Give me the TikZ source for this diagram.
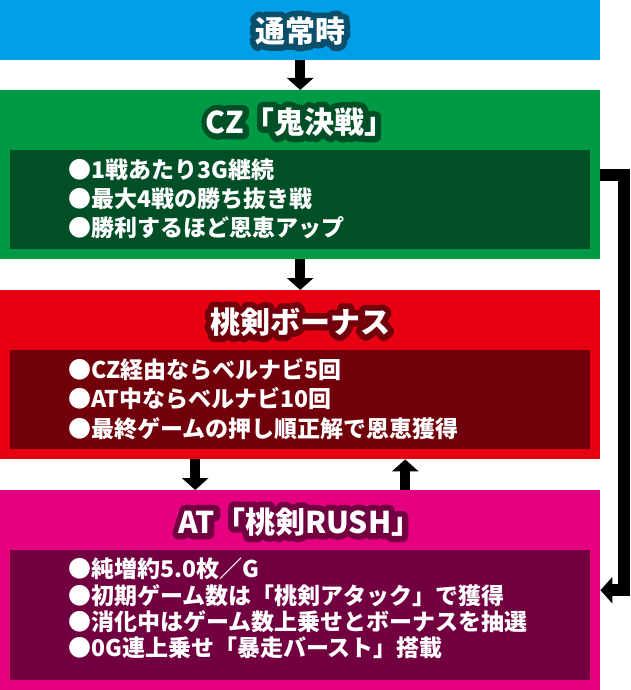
\documentclass[tikz,border=0pt]{standalone}
\usepackage{fontspec}
\setmainfont{Noto Sans CJK JP}
\newfontfamily\haloface{Noto Sans CJK JP}[BoldFeatures={FakeBold=40}]
\usetikzlibrary{arrows.meta}
\definecolor{Sky}{HTML}{009FE8}
\definecolor{SkyDark}{HTML}{0B4F6C}
\definecolor{Leaf}{HTML}{009944}
\definecolor{LeafDark}{HTML}{004F26}
\definecolor{Crimson}{HTML}{E60012}
\definecolor{CrimsonDark}{HTML}{72000A}
\definecolor{Momo}{HTML}{E4007F}
\definecolor{MomoDark}{HTML}{720040}
\newcommand{\roundjoin}{\special{pdf:literal direct 1 j 1 J}}

\begin{document}
\begin{tikzpicture}[x=1pt, y=-1pt,
        stage/.style={rectangle, inner sep=0pt, minimum width=600pt, anchor=north west},
        panel/.style={rectangle, inner sep=0pt, minimum width=580pt, anchor=north west},
        headline/.style={inner sep=0pt, text=white, font=\fontsize{30}{30}\bfseries\selectfont},
        halo/.style={inner sep=0pt, font=\fontsize{30}{30}\haloface\bfseries\selectfont\roundjoin},
        items/.style={inner sep=0pt, anchor=west, align=left, text=white},
        flow/.style={line width=10pt, -{Triangle[width=26pt, length=12pt]}},
        bypass/.style={line width=12pt, -{Triangle[width=26pt, length=12pt]}}]
            \useasboundingbox (0,0) rectangle (630,690);
            \node[stage, fill=Sky, minimum height=60pt] (normal) at (0,0) {};
            \node[stage, fill=Leaf, minimum height=169pt] (cz) at (0,90) {};
            \node[panel, fill=LeafDark, minimum height=99pt] (czpanel) at (10,150) {};
            \node[stage, fill=Crimson, minimum height=169pt] (bonus) at (0,290) {};
            \node[panel, fill=CrimsonDark, minimum height=99pt] (bonuspanel) at (10,350) {};
            \node[stage, fill=Momo, minimum height=200pt] (rush) at (0,490) {};
            \node[panel, fill=MomoDark, minimum height=130pt] (rushpanel) at (10,550) {};
            \node[halo, text=SkyDark] (normalhalo) at (300,31) {通常時};
            \node[headline] (normaltitle) at (normalhalo) {通常時};
            \node[halo, text=LeafDark] (czhalo) at (300,122) {CZ「鬼決戦」};
            \node[headline] (cztitle) at (czhalo) {CZ「鬼決戦」};
            \node[halo, text=CrimsonDark] (bonushalo) at (300,322) {桃剣ボーナス};
            \node[headline] (bonustitle) at (bonushalo) {桃剣ボーナス};
            \node[halo, text=MomoDark] (rushhalo) at (300,522) {AT「桃剣RUSH」};
            \node[headline] (rushtitle) at (rushhalo) {AT「桃剣RUSH」};
            \node[items, font=\fontsize{23}{29}\bfseries\selectfont] (czitems) at (68,199) {●1戦あたり3G継続\\●最大4戦の勝ち抜き戦\\●勝利するほど恩恵アップ};
            \node[items, font=\fontsize{23}{29.5}\bfseries\selectfont] (bonusitems) at (68,399) {●CZ経由ならベルナビ5回\\●AT中ならベルナビ10回\\●最終ゲームの押し順正解で恩恵獲得};
            \node[items, font=\fontsize{23}{26.3}\bfseries\selectfont] (rushitems) at (68,608.5) {●純増約5.0枚／G\\●初期ゲーム数は「桃剣アタック」で獲得\\●消化中はゲーム数上乗せとボーナスを抽選\\●0G連上乗せ「暴走バースト」搭載};
            \draw[flow] (normal.south) -- (cz.north);
            \draw[flow] (cz.south) -- (bonus.north);
            \draw[flow] ([xshift=-105pt]bonus.south) -- ([xshift=-105pt]rush.north);
            \draw[flow] ([xshift=105pt]rush.north) -- ([xshift=105pt]bonus.south);
            \draw[bypass] (cz.east) -- ++(24,0) |- (rush.east);
        \end{tikzpicture}
\end{document}
